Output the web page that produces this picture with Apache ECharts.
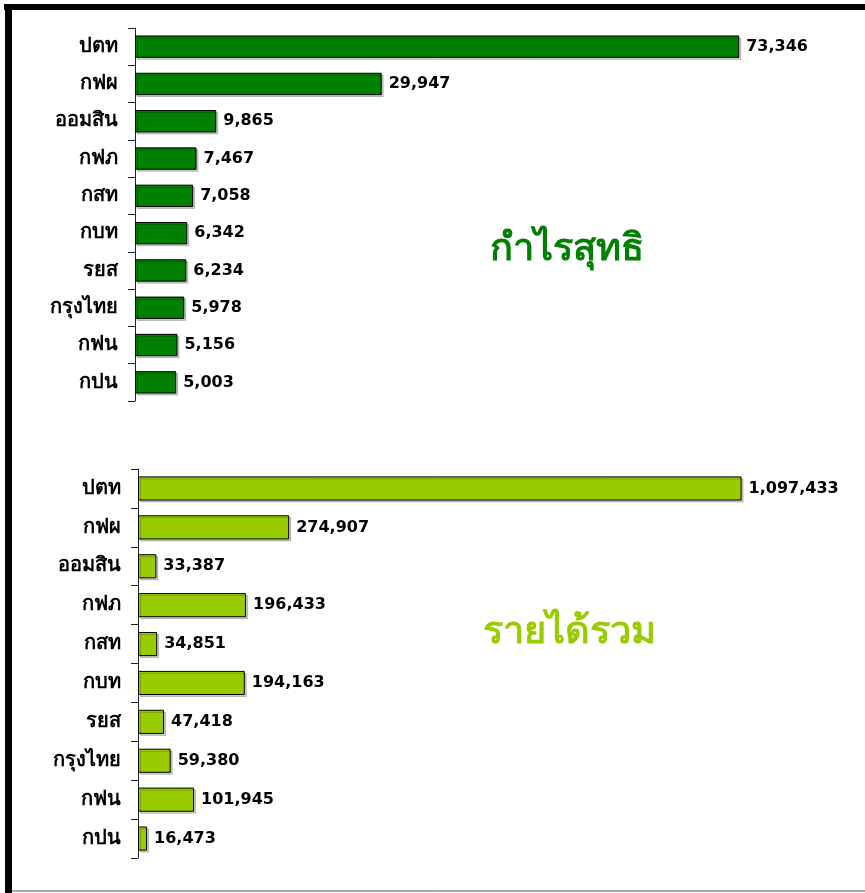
<!DOCTYPE html>
<html>
<head>
<meta charset="utf-8">
<script src="https://cdn.jsdelivr.net/npm/echarts@6/dist/echarts.min.js"></script>
<style>
  html, body { margin: 0; padding: 0; background: #fff; }
  #main { width: 865px; height: 893px; }
</style>
</head>
<body>
<div id="main"></div>
<script>
var categories = ["ปตท", "กฟผ", "ออมสิน", "กฟภ", "กสท", "กบท", "รยส", "กรุงไทย", "กฟน", "กปน"];
var netProfit = [73346, 29947, 9865, 7467, 7058, 6342, 6234, 5978, 5156, 5003];
var totalRevenue = [1097433, 274907, 33387, 196433, 34851, 194163, 47418, 59380, 101945, 16473];
var titleProfit = "กำไรสุทธิ";
var titleRevenue = "รายได้รวม";

var chart = echarts.init(document.getElementById("main"));

var labelFont = "Tahoma, 'DejaVu Sans', 'Noto Sans', sans-serif";
var numFont = "Verdana, 'DejaVu Sans', sans-serif";

function catAxis(gridIndex) {
  return {
    type: "category",
    gridIndex: gridIndex,
    data: categories,
    inverse: true,
    axisLine: { lineStyle: { color: "#222", width: 1 } },
    axisTick: { show: true, length: 7, lineStyle: { color: "#222" } },
    axisLabel: { color: "#000", fontWeight: "bold", fontSize: 20, fontFamily: labelFont, margin: 17 }
  };
}

function valAxis(gridIndex, max) {
  return {
    type: "value",
    gridIndex: gridIndex,
    min: 0,
    max: max,
    show: false,
    splitLine: { show: false }
  };
}

function barSeries(idx, data, color, gap) {
  return {
    type: "bar",
    xAxisIndex: idx,
    yAxisIndex: idx,
    data: data,
    barCategoryGap: gap,
    itemStyle: {
      color: color,
      borderColor: "#000",
      borderWidth: 1,
      shadowColor: "rgba(0,0,0,0.2)",
      shadowOffsetX: 2,
      shadowOffsetY: 2
    },
    label: {
      show: true,
      position: "right",
      distance: 7,
      color: "#000",
      fontWeight: "bold",
      fontSize: 16,
      fontFamily: numFont,
      formatter: function (p) { return p.value.toLocaleString("en-US"); }
    }
  };
}

var option = {
  backgroundColor: "#fff",
  animation: false,
  grid: [
    { left: 135, top: 28, width: 659, height: 373 },
    { left: 138, top: 469, width: 660, height: 389 }
  ],
  xAxis: [valAxis(0, 80000), valAxis(1, 1200000)],
  yAxis: [catAxis(0), catAxis(1)],
  series: [
    barSeries(0, netProfit, "#007F00", "40%"),
    barSeries(1, totalRevenue, "#99CC00", "38%")
  ],
  graphic: [
    { type: "rect", shape: { x: 4, y: 4, width: 880, height: 6 }, style: { fill: "#000" } },
    { type: "rect", shape: { x: 5, y: 4, width: 7, height: 890 }, style: { fill: "#000" } },
    { type: "line", shape: { x1: 12, y1: 891, x2: 865, y2: 891 }, style: { stroke: "#555", lineWidth: 1 } },
    { type: "text", left: 490, top: 231, style: { text: titleProfit, fill: "#007F00", font: "bold 38px " + labelFont } },
    { type: "text", left: 483, top: 614, style: { text: titleRevenue, fill: "#99CC00", font: "bold 38px " + labelFont } }
  ]
};

chart.setOption(option);
</script>
</body>
</html>
